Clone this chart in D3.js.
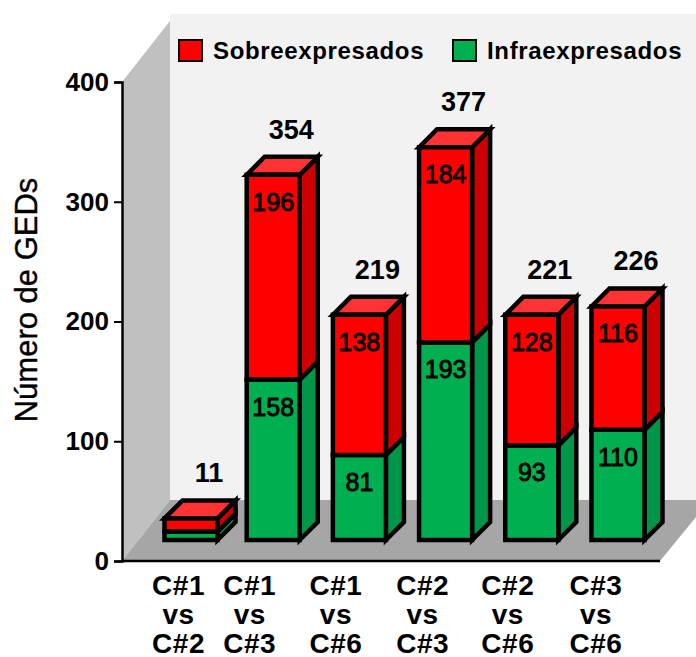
<!DOCTYPE html>
<html>
<head>
<meta charset="utf-8">
<script src="https://cdn.jsdelivr.net/npm/d3@7"></script>
<style>
  html, body { margin: 0; padding: 0; background: #fff; }
  svg { display: block; }
  text { font-family: "Liberation Sans", Arial, sans-serif; font-weight: bold; fill: #000; }
</style>
</head>
<body>
<script>
var categories = ["C#1 vs C#2", "C#1 vs C#3", "C#1 vs C#6", "C#2 vs C#3", "C#2 vs C#6", "C#3 vs C#6"];
var infraLabels = [null, 158, 81, 193, 93, 110];
var sobreLabels = [null, 196, 138, 184, 128, 116];
var totals = [11, 354, 219, 377, 221, 226];
// drawn height of each segment read against the axis (the picture does not follow its own labels)
var infraDrawn = [7, 134, 71, 165, 79, 92];
var sobreDrawn = [11, 171, 117, 163, 109, 103];
var yTicks = [0, 100, 200, 300, 400];
var legendNames = ["Sobreexpresados", "Infraexpresados"];

var w = 696;
var h = 657;
var depthX = 18, depthY = 18; //bar depth

var svg = d3.select("body").append("svg").attr("width", w).attr("height", h);

//axis scale, and same unit scale for bars standing further back on the floor
var y = d3.scaleLinear().domain([0, 400]).range([561, 82]);
var yBar = d3.scaleLinear().domain([0, 400]).range([540, 61]);
var x = d3.scaleBand().domain(categories).range([160.5, 644.5]).paddingInner(0.3846);

//back wall, side wall, floor
svg.append("rect").attr("x", 170).attr("y", 14).attr("width", 526).attr("height", 490).attr("fill", "#f2f2f2");
svg.append("path").attr("d", "M122,82L170,21L170,500L122,561Z").attr("fill", "#c0c0c0");
svg.append("path").attr("d", "M122,561L170,500L696,500L696,517L660,561Z").attr("fill", "#a6a6a6");

//y axis
var yAxis = d3.axisLeft(y).tickValues(yTicks).tickSize(8).tickPadding(5);
var axisG = svg.append("g").attr("transform", "translate(122,0)").call(yAxis);
axisG.select(".domain").attr("stroke", "#000").attr("stroke-width", 2.5);
axisG.selectAll(".tick line").attr("stroke", "#000").attr("stroke-width", 2);
axisG.selectAll("text").attr("font-size", 26).attr("font-family", null);

//x baseline
svg.append("line").attr("x1", 122).attr("x2", 660).attr("y1", 561).attr("y2", 561)
   .attr("stroke", "#000").attr("stroke-width", 2.5);

svg.append("text")
   .attr("transform", "translate(37,300) rotate(-90)")
   .attr("text-anchor", "middle")
   .attr("font-size", 31)
   .attr("stroke", "#000")
   .attr("stroke-width", 0.4)
   .style("font-weight", "normal")
   .text("Número de GEDs");

//stack segments per bar
var rows = categories.map(function(c, i) {
    return {
        cat: c,
        total: totals[i],
        infra: infraDrawn[i],
        top: infraDrawn[i] + sobreDrawn[i],
        infraLabel: infraLabels[i],
        sobreLabel: sobreLabels[i]
    };
});

var barNudge = [4, 0, 0, 0, 0, 0]; //first bar sits a little off the even spacing
var bw = x.bandwidth();
var edge = { stroke: "#000", "stroke-width": 4.5, "stroke-linejoin": "miter" };

function box(sel, fill, points) {
    var p = sel.append("path").attr("fill", fill).attr("d", points);
    Object.keys(edge).forEach(function(k) { p.attr(k, edge[k]); });
}

function segLabel(g, xc, yc, value) {
    g.append("text").attr("x", xc).attr("y", yc)
     .attr("text-anchor", "middle").attr("font-size", 25)
     .attr("stroke", "#000").attr("stroke-width", 0.9)
     .style("font-weight", "normal")
     .text(value);
}

var bars = svg.selectAll("g.bar").data(rows).enter().append("g").attr("class", "bar");

bars.each(function(d, i) {
    var g = d3.select(this);
    var x0 = x(d.cat) + barNudge[i], x1 = x0 + bw;
    var y0 = yBar(0), ym = yBar(d.infra), yt = yBar(d.top);
    box(g, "#00964a", "M" + x1 + "," + y0 + "L" + (x1 + depthX) + "," + (y0 - depthY) + "L" + (x1 + depthX) + "," + (ym - depthY) + "L" + x1 + "," + ym + "Z");
    box(g, "#cc0000", "M" + x1 + "," + ym + "L" + (x1 + depthX) + "," + (ym - depthY) + "L" + (x1 + depthX) + "," + (yt - depthY) + "L" + x1 + "," + yt + "Z");
    box(g, "#ff3333", "M" + x0 + "," + yt + "L" + (x0 + depthX) + "," + (yt - depthY) + "L" + (x1 + depthX) + "," + (yt - depthY) + "L" + x1 + "," + yt + "Z");
    box(g, "#00b050", "M" + x0 + "," + y0 + "H" + x1 + "V" + ym + "H" + x0 + "Z");
    box(g, "#ff0000", "M" + x0 + "," + ym + "H" + x1 + "V" + yt + "H" + x0 + "Z");

    g.append("text").attr("x", x0 + 44.5).attr("y", yt - 36)
     .attr("text-anchor", "middle").attr("font-size", 27).text(d.total);
    if (d.infraLabel !== null) {
        segLabel(g, x0 + bw / 2, ym + 36, d.infraLabel);
        segLabel(g, x0 + bw / 2, yt + 36, d.sobreLabel);
    }
});

//category labels, three lines each
var labelNudge = [-12.5, -23.5, -23.5, -23, -24, -22];
var catLabels = svg.selectAll("text.cat").data(categories).enter().append("text")
    .attr("class", "cat")
    .attr("text-anchor", "middle")
    .attr("font-size", 28)
    .attr("letter-spacing", 0.5)
    .attr("transform", function(d, i) {
        return "translate(" + (x(d) + barNudge[i] + bw / 2 + labelNudge[i]) + ",0)";
    });
catLabels.selectAll("tspan")
    .data(function(d) { return [d.slice(0, 3), d.slice(4, 6), d.slice(7)]; })
    .enter().append("tspan")
    .attr("x", 0)
    .attr("y", function(d, i) { return 595 + i * 29; })
    .text(function(d) { return d; });

//legend
var legendX = [179, 453];
var legendFill = ["#ff0000", "#00b050"];
var legend = svg.selectAll("g.legend").data(legendNames).enter().append("g")
    .attr("class", "legend")
    .attr("transform", function(d, i) { return "translate(" + legendX[i] + ",40)"; });
legend.append("rect").attr("width", 23).attr("height", 21)
    .attr("fill", function(d, i) { return legendFill[i]; })
    .attr("stroke", "#000").attr("stroke-width", 2);
legend.append("text").attr("x", 34).attr("y", 19).attr("font-size", 24)
    .attr("letter-spacing", 0.65)
    .text(function(d) { return d; });
</script>
</body>
</html>
